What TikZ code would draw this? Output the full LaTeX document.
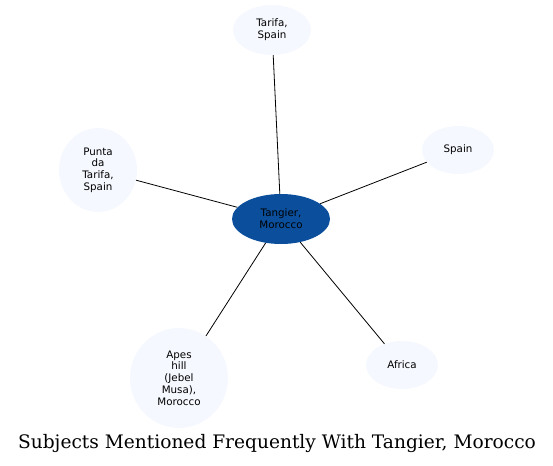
\documentclass[tikz,border=0pt]{standalone}
\usepackage{fontspec}
\setmainfont{DejaVu Sans}
\newfontfamily\titlefont{DejaVu Serif}
\usetikzlibrary{shapes.geometric}
\definecolor{hub}{HTML}{0B4F9C}
\definecolor{leaf}{HTML}{F5F8FE}
\tikzset{
  ent/.style={ellipse, inner sep=0pt, fill=leaf, draw=none, align=center,
    font=\fontsize{10.3}{11.7}\selectfont},
  hubnode/.style={ent, fill=hub},
  link/.style={draw=black, line width=0.8pt}
}
\begin{document}
\begin{tikzpicture}[x=1pt,y=-1pt]
\useasboundingbox (0,0) rectangle (553,465);
\node[hubnode, minimum width=98, minimum height=50] (c) at (281,219) {Tangier,\\Morocco};
\node[ent, minimum width=78, minimum height=50] (t) at (272,30) {Tarifa,\\Spain};
\node[ent, minimum width=72, minimum height=48] (s) at (458,150) {Spain};
\node[ent, minimum width=78, minimum height=84] (p) at (98,170) {Punta\\da\\Tarifa,\\Spain};
\node[ent, minimum width=98, minimum height=100] (a) at (179,378) {Apes\\hill\\(Jebel\\Musa),\\Morocco};
\node[ent, minimum width=72, minimum height=48] (f) at (402,365) {Africa};
\foreach \n in {t,s,p,a,f} \draw[link] (c) -- (\n);
\node[font=\titlefont\fontsize{18.6}{20}\selectfont] (title) at (277,443) {Subjects Mentioned Frequently With Tangier, Morocco};
\end{tikzpicture}
\end{document}
